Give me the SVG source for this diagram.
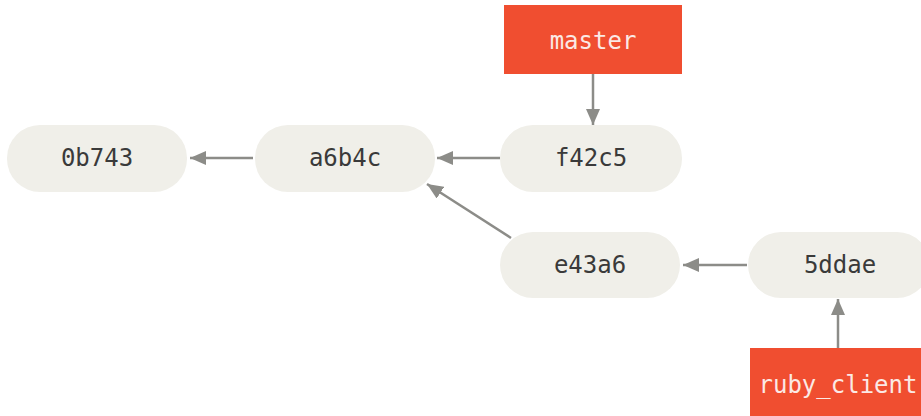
<svg xmlns="http://www.w3.org/2000/svg" width="921" height="416" viewBox="0 0 921 416">
<style>
.commit rect{fill:#f0efe9}
.ref rect{fill:#f04e30}
text{font-family:"DejaVu Sans Mono","Liberation Mono",monospace;font-size:24px;text-anchor:middle;dominant-baseline:central}
.commit text{fill:#3a3a3a}
.ref text{fill:#fbe9e5}
.edge{stroke:#8c8c88;stroke-width:2.5;fill:none;marker-end:url(#ah)}
</style>
<defs>
<marker id="ah" viewBox="0 0 16 14" refX="16" refY="7" markerWidth="16" markerHeight="14" markerUnits="userSpaceOnUse" orient="auto">
<path d="M0,0 L16,7 L0,14 Z" fill="#8c8c88"/>
</marker>
</defs>
<rect width="921" height="416" fill="#ffffff"/>
<g id="connectors">
<line class="edge" x1="253" y1="158" x2="190" y2="158"/>
<line class="edge" x1="500" y1="158" x2="437" y2="158"/>
<line class="edge" x1="511" y1="238" x2="427" y2="184"/>
<line class="edge" x1="747" y1="265" x2="683" y2="265"/>
<line class="edge" x1="593" y1="74" x2="593" y2="125"/>
<line class="edge" x1="838" y1="348" x2="838" y2="299"/>
</g>
<g id="n0b743" class="commit"><rect x="7" y="125" width="180" height="67" rx="33"/><text x="97" y="158">0b743</text></g>
<g id="na6b4c" class="commit"><rect x="255" y="125" width="180" height="67" rx="33"/><text x="345" y="158">a6b4c</text></g>
<g id="nf42c5" class="commit"><rect x="500" y="125" width="182" height="67" rx="33"/><text x="591" y="158">f42c5</text></g>
<g id="ne43a6" class="commit"><rect x="500" y="232" width="180" height="66" rx="33"/><text x="590" y="265">e43a6</text></g>
<g id="n5ddae" class="commit"><rect x="748" y="232" width="182" height="66" rx="33"/><text x="840" y="265">5ddae</text></g>
<g id="master" class="ref"><rect x="504" y="5" width="178" height="69"/><text x="593" y="41">master</text></g>
<g id="ruby_client" class="ref"><rect x="750" y="348" width="180" height="75"/><text x="838" y="385">ruby_client</text></g>
</svg>
